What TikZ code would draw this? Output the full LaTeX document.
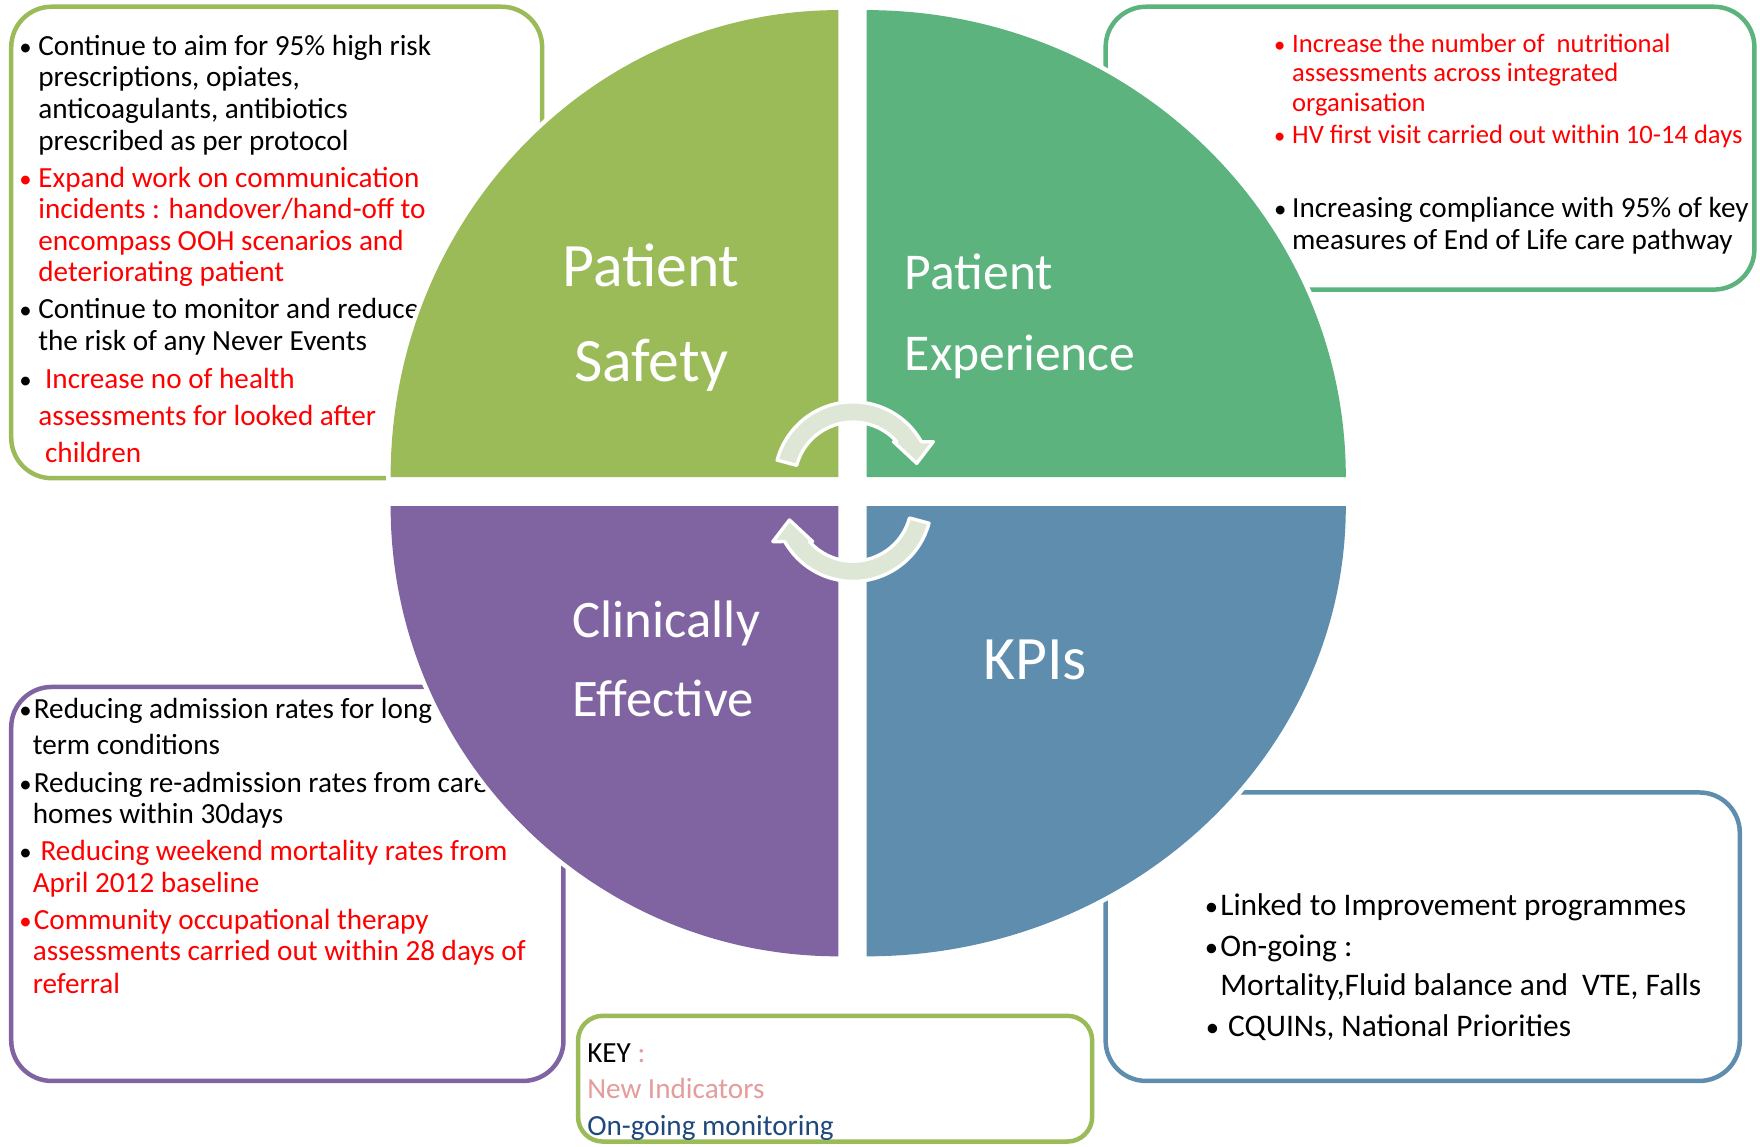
\documentclass[tikz,border=0pt]{standalone}
\usepackage{fontspec}
\usepackage{graphicx}
\setmainfont{Carlito}
\definecolor{gA}{HTML}{9BBB59}
\definecolor{gB}{HTML}{5CB37D}
\definecolor{pu}{HTML}{8064A2}
\definecolor{bl}{HTML}{5E8DAE}
\definecolor{arr}{HTML}{DEE7D5}
\definecolor{rd}{HTML}{FF0000}
\definecolor{pk}{HTML}{E59C9C}
\definecolor{db}{HTML}{1F497D}
\newcommand\mybu[2]{\llap{\textcolor{#1}{\scalebox{0.85}{\textbullet}}\hspace{#2}}}
\newcommand\fsz[2]{\fontsize{#1pt}{#2pt}\selectfont}
\begin{document}
\begin{tikzpicture}[x=1pt,y=1pt,
 box/.style={rounded corners=36pt, line width=4pt, fill=white},
 quad/.style={preaction={draw=white,line width=8pt}},
 tx/.style={anchor=base west, inner sep=0pt, font=\fsz{26}{28}},
 txs/.style={anchor=base west, inner sep=0pt, font=\fsz{23.7}{26}},
 txl/.style={anchor=base west, inner sep=0pt, font=\fsz{28}{34}},
 lbl/.style={anchor=base, inner sep=0pt, text=white},
 arrw/.style={fill=arr, draw=white, line width=3pt, line join=round},
 cyc/.pic={\path[arrw] (165:70) arc[start angle=165,end angle=29.5,radius=70]
   -- (71.5,34.5) -- (56.7,15.2) -- (36,34.5) -- (41.6:52)
   arc[start angle=41.6,end angle=165,radius=52] -- cycle;}]
\useasboundingbox (0,0) rectangle (1568,-1021);
\fill[white] (0,0) rectangle (1568,-1021);

% boxes
\draw[box, draw=gA] (10,-6) rectangle (483,-426);
\draw[box, draw=gB] (985,-6) rectangle (1563,-258);
\draw[box, draw=pu] (10,-612) rectangle (502,-963);
\draw[box, draw=bl] (985,-706) rectangle (1550,-963);
\draw[box, draw=gA, rounded corners=22pt] (515,-905) rectangle (973,-1017);

% top-left texts
\node[tx] (tl1) at (34,-49) {\mybu{black}{6pt}Continue to aim for 95\% high risk};
\node[tx] (tl2) at (34,-77) {prescriptions, opiates,};
\node[tx] (tl3) at (34,-106) {anticoagulants, antibiotics};
\node[tx] (tl4) at (34,-134) {prescribed as per protocol};
\node[tx,text=rd] (tl5) at (34,-167) {\mybu{rd}{6pt}Expand work on communication};
\node[tx,text=rd] (tl6) at (34,-195) {incidents : handover/hand-off to};
\node[tx,text=rd] (tl7) at (34,-223) {encompass OOH scenarios and};
\node[tx,text=rd] (tl8) at (34,-251) {deteriorating patient};
\node[tx] (tl9) at (34,-284) {\mybu{black}{6pt}Continue to monitor and reduce};
\node[tx] (tl10) at (34,-312) {the risk of any Never Events};
\node[tx,text=rd] (tl11) at (40,-346) {\mybu{black}{12pt}Increase no of health};
\node[tx,text=rd] (tl12) at (34,-379) {assessments for looked after};
\node[tx,text=rd] (tl13) at (40,-412) {children};

% top-right texts
\node[txs,text=rd] (tr1) at (1151,-47) {\mybu{rd}{6pt}Increase the number of~ nutritional};
\node[txs,text=rd] (tr2) at (1151,-73) {assessments across integrated};
\node[txs,text=rd] (tr3) at (1151,-99) {organisation};
\node[txs,text=rd] (tr4) at (1151,-128) {\mybu{rd}{6pt}HV first visit carried out within 10-14 days};
\node[tx] (tr5) at (1151,-194) {\mybu{black}{5pt}Increasing compliance with 95\% of key};
\node[tx] (tr6) at (1151,-222) {measures of End of Life care pathway};

% bottom-left texts
\node[tx] (bl1) at (30,-640) {\mybu{black}{2pt}Reducing admission rates for long};
\node[tx] (bl2) at (29,-672) {term conditions};
\node[tx] (bl3) at (30,-706) {\mybu{black}{2pt}Reducing re-admission rates from care};
\node[tx] (bl4) at (29,-734) {homes within 30days};
\node[tx,text=rd] (bl5) at (36,-767) {\mybu{black}{8pt}Reducing weekend mortality rates from};
\node[tx,text=rd] (bl6) at (29,-795) {April 2012 baseline};
\node[tx,text=rd] (bl7) at (30,-828) {\mybu{rd}{2pt}Community occupational therapy};
\node[tx,text=rd] (bl8) at (29,-856) {assessments carried out within 28 days of};
\node[tx,text=rd] (bl9) at (29,-885) {referral};

% bottom-right texts
\node[txl] (br1) at (1087,-816) {\mybu{black}{2pt}Linked to Improvement programmes};
\node[txl] (br2) at (1087,-852) {\mybu{black}{2pt}On-going :};
\node[txl] (br3) at (1087,-887) {Mortality,Fluid balance and~ VTE, Falls};
\node[txl] (br4) at (1094,-923) {\mybu{black}{8pt}CQUINs, National Priorities};

% key
\node[tx] (k1) at (523,-947) {KEY\ \textcolor{pk}{:}};
\node[tx,text=pk] (k2) at (523,-979) {New Indicators};
\node[tx,text=db] (k3) at (523,-1012) {On-going monitoring};

% quadrants
\path[quad, fill=gA] (747,-425) -- (348,-425) arc[start angle=180,end angle=90,x radius=399,y radius=416] -- cycle;
\path[quad, fill=gB] (772,-425) -- (772,-9) arc[start angle=90,end angle=0,x radius=427,y radius=416] -- cycle;
\path[quad, fill=pu] (747,-451) -- (348,-451) arc[start angle=180,end angle=270,x radius=399,y radius=401] -- cycle;
\path[quad, fill=bl] (772,-451) -- (1199,-451) arc[start angle=0,end angle=-90,x radius=427,y radius=401] -- cycle;

% quadrant labels
\node[lbl, font=\fsz{55}{66}] (ps1) at (580,-255) {Patient};
\node[lbl, font=\fsz{55}{66}] (ps2) at (580,-340) {Safety};
\node[lbl, anchor=base west, font=\fsz{46}{56}] (pe1) at (806,-258) {Patient};
\node[lbl, anchor=base west, font=\fsz{46}{56}] (pe2) at (806,-330) {Experience};
\node[lbl, anchor=base west, font=\fsz{47}{56}] (ce1) at (510,-568) {Clinically};
\node[lbl, anchor=base west, font=\fsz{47}{56}] (ce2) at (510,-638) {Effective};
\node[lbl, font=\fsz{55}{66}] (kpi) at (922,-605) {KPIs};

% cycle arrows
\pic at (760,-428) {cyc};
\pic[rotate=180] at (760,-448) {cyc};
\end{tikzpicture}
\end{document}
